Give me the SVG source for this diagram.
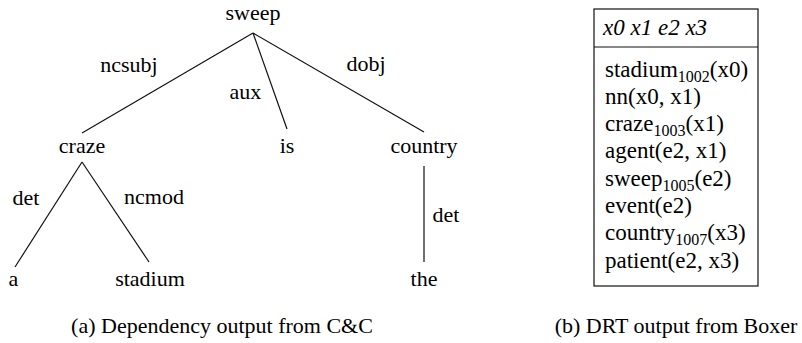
<svg xmlns="http://www.w3.org/2000/svg" width="802" height="343" viewBox="0 0 802 343">
<rect width="802" height="343" fill="#fff"/>
<g id="connectors" stroke="#111" stroke-width="1.2" fill="none">
<line x1="253" y1="33" x2="82" y2="133"/>
<line x1="253" y1="33" x2="287" y2="129"/>
<line x1="253" y1="33" x2="424" y2="132"/>
<line x1="82" y1="162" x2="15" y2="267"/>
<line x1="82" y1="162" x2="149" y2="262"/>
<line x1="424" y1="166" x2="424" y2="262"/>
</g>
<g id="labels">
<text x="129" y="71.5" font-size="22" font-family="Liberation Serif" text-anchor="middle">ncsubj</text>
<text x="245.5" y="99" font-size="22" font-family="Liberation Serif" text-anchor="middle">aux</text>
<text x="366" y="71" font-size="22" font-family="Liberation Serif" text-anchor="middle">dobj</text>
<text x="26" y="205" font-size="22" font-family="Liberation Serif" text-anchor="middle">det</text>
<text x="154" y="203.5" font-size="22" font-family="Liberation Serif" text-anchor="middle">ncmod</text>
<text x="446" y="221.5" font-size="22" font-family="Liberation Serif" text-anchor="middle">det</text>
</g>
<g id="sweep"><text x="253" y="20" font-size="22" font-family="Liberation Serif" text-anchor="middle">sweep</text></g>
<g id="craze"><text x="82" y="152.5" font-size="22" font-family="Liberation Serif" text-anchor="middle">craze</text></g>
<g id="is"><text x="287" y="152.5" font-size="22" font-family="Liberation Serif" text-anchor="middle">is</text></g>
<g id="country"><text x="424" y="152.5" font-size="22" font-family="Liberation Serif" text-anchor="middle">country</text></g>
<g id="a"><text x="13.5" y="286" font-size="22" font-family="Liberation Serif" text-anchor="middle">a</text></g>
<g id="stadium"><text x="150" y="286" font-size="22" font-family="Liberation Serif" text-anchor="middle">stadium</text></g>
<g id="the"><text x="424" y="286" font-size="22" font-family="Liberation Serif" text-anchor="middle">the</text></g>
<g id="drs">
<rect x="594" y="9" width="164" height="277" stroke="#111" stroke-width="1.2" fill="none"/>
<line x1="594" y1="47" x2="758" y2="47" stroke="#111" stroke-width="1.2"/>
<text x="603" y="35" font-size="23" font-family="Liberation Serif" font-style="italic">x0 x1 e2 x3</text>
<text x="605" y="76.5" font-size="23" font-family="Liberation Serif">stadium<tspan font-size="16" dy="5">1002</tspan><tspan dy="-5">(x0)</tspan></text>
<text x="605" y="103.8" font-size="23" font-family="Liberation Serif">nn(x0, x1)</text>
<text x="605" y="131.1" font-size="23" font-family="Liberation Serif">craze<tspan font-size="16" dy="5">1003</tspan><tspan dy="-5">(x1)</tspan></text>
<text x="605" y="158.4" font-size="23" font-family="Liberation Serif">agent(e2, x1)</text>
<text x="605" y="185.7" font-size="23" font-family="Liberation Serif">sweep<tspan font-size="16" dy="5">1005</tspan><tspan dy="-5">(e2)</tspan></text>
<text x="605" y="213" font-size="23" font-family="Liberation Serif">event(e2)</text>
<text x="605" y="240.3" font-size="23" font-family="Liberation Serif">country<tspan font-size="16" dy="5">1007</tspan><tspan dy="-5">(x3)</tspan></text>
<text x="605" y="267.6" font-size="23" font-family="Liberation Serif">patient(e2, x3)</text>
</g>
<g id="captions">
<text x="222" y="333" font-size="22" font-family="Liberation Serif" text-anchor="middle">(a) Dependency output from C&amp;C</text>
<text x="676" y="333" font-size="22" font-family="Liberation Serif" text-anchor="middle">(b) DRT output from Boxer</text>
</g>
</svg>
